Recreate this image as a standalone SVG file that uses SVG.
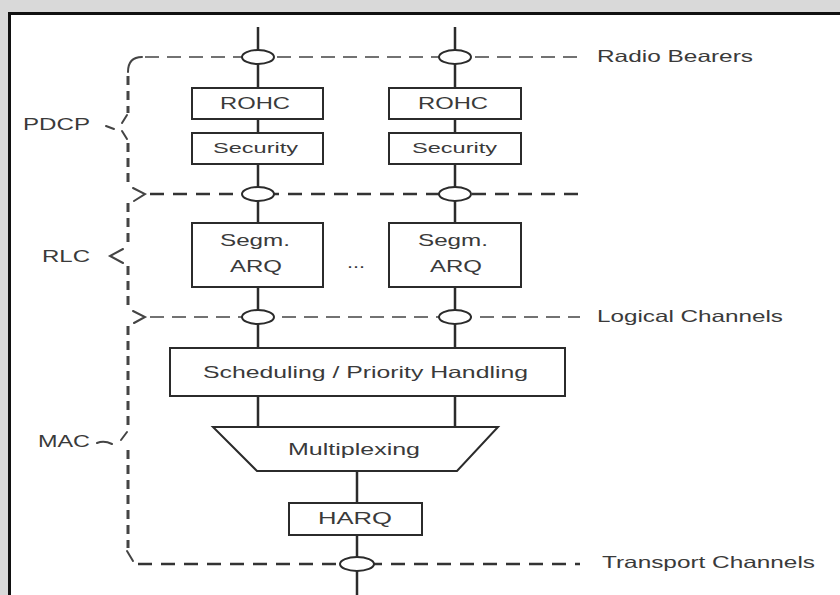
<svg xmlns="http://www.w3.org/2000/svg" width="840" height="595" viewBox="0 0 840 595">
<style>
  .txt { font-family: "Liberation Sans", Arial, sans-serif; font-size: 16.5px; fill: #3a3a3a; }
  .sm { font-size: 15px; }
  .box { fill: #ffffff; stroke: #2b2b2b; stroke-width: 2; }
  .wire { stroke: #2b2b2b; stroke-width: 2.5; fill: none; }
  .oval { fill: #ffffff; stroke: #2b2b2b; stroke-width: 2; }
  .dthin { stroke: #444; stroke-width: 1.3; stroke-dasharray: 14 8; fill: none; }
  .dthick { stroke: #333; stroke-width: 2.4; stroke-dasharray: 14 9; fill: none; }
  .brk { stroke: #444; stroke-width: 3; stroke-dasharray: 9 6; fill: none; }
  .brs { stroke: #444; stroke-width: 2; fill: none; stroke-linecap: round; }
</style>
<rect x="0" y="0" width="840" height="595" fill="#d9d9d9"/>
<rect x="9.5" y="13.5" width="840" height="600" fill="#ffffff" stroke="#111" stroke-width="3"/>

<g id="connectors">
  <line class="wire" x1="258" y1="27" x2="258" y2="427"/>
  <line class="wire" x1="455" y1="27" x2="455" y2="427"/>
  <line class="wire" x1="357" y1="471" x2="357" y2="595"/>
  <path class="brs" d="M128,72 Q128,57 142,57"/>
  <line class="dthin" x1="145" y1="57" x2="580" y2="57"/>
  <line class="dthick" x1="150" y1="194" x2="585" y2="194"/>
  <line class="dthin" x1="150" y1="317" x2="580" y2="317"/>
  <line class="dthick" x1="138" y1="564" x2="580" y2="564"/>
  <line class="brk" x1="128" y1="76" x2="128" y2="113"/>
  <path class="brs" d="M127,115 L122,123"/>
  <path class="brs" d="M106,126 L114,129"/>
  <path class="brs" d="M122,131 L127,139"/>
  <line class="brk" x1="128" y1="143" x2="128" y2="186"/>
  <path class="brs" d="M133,188 L145,194 L134,201"/>
  <line class="brk" x1="128" y1="203" x2="128" y2="248"/>
  <path class="brs" d="M123,249 L110,256 L123,263"/>
  <line class="brk" x1="128" y1="266" x2="128" y2="310"/>
  <path class="brs" d="M133,311 L145,317 L134,323"/>
  <line class="brk" x1="128" y1="326" x2="128" y2="430"/>
  <path class="brs" d="M127,432 L121,440"/>
  <path class="brs" d="M97,443 Q104,440 112,444"/>
  <line class="brk" x1="128" y1="450" x2="128" y2="548"/>
  <path class="brs" d="M127,551 L133,561"/>
  <ellipse class="oval" cx="258" cy="57" rx="16" ry="7"/>
  <ellipse class="oval" cx="455" cy="57" rx="16" ry="7"/>
  <ellipse class="oval" cx="258" cy="194" rx="16" ry="7"/>
  <ellipse class="oval" cx="455" cy="194" rx="16" ry="7"/>
  <ellipse class="oval" cx="258" cy="317" rx="16" ry="7"/>
  <ellipse class="oval" cx="455" cy="317" rx="16" ry="7"/>
  <ellipse class="oval" cx="357" cy="564" rx="17" ry="7"/>
</g>

<g id="label-radio-bearers"><text class="txt" x="597" y="62" textLength="156" lengthAdjust="spacingAndGlyphs">Radio Bearers</text></g>
<g id="label-pdcp"><text class="txt" x="23" y="130" textLength="67" lengthAdjust="spacingAndGlyphs">PDCP</text></g>
<g id="label-rlc"><text class="txt" x="42" y="262" textLength="48" lengthAdjust="spacingAndGlyphs">RLC</text></g>
<g id="label-mac"><text class="txt" x="38" y="447" textLength="52" lengthAdjust="spacingAndGlyphs">MAC</text></g>
<g id="label-logical"><text class="txt" x="597" y="322" textLength="186" lengthAdjust="spacingAndGlyphs">Logical Channels</text></g>
<g id="label-transport"><text class="txt" x="602" y="568" textLength="213" lengthAdjust="spacingAndGlyphs">Transport Channels</text></g>

<g id="rohc1"><rect class="box" x="192" y="88" width="131" height="31"/><text class="txt" x="220" y="109" textLength="70" lengthAdjust="spacingAndGlyphs">ROHC</text></g>
<g id="rohc2"><rect class="box" x="389" y="88" width="132" height="31"/><text class="txt" x="418" y="109" textLength="70" lengthAdjust="spacingAndGlyphs">ROHC</text></g>
<g id="security1"><rect class="box" x="192" y="133" width="131" height="31"/><text class="txt sm" x="213" y="153" textLength="85" lengthAdjust="spacingAndGlyphs">Security</text></g>
<g id="security2"><rect class="box" x="389" y="133" width="132" height="31"/><text class="txt sm" x="412" y="153" textLength="85" lengthAdjust="spacingAndGlyphs">Security</text></g>
<g id="arq1"><rect class="box" x="192" y="223" width="131" height="64"/><text class="txt" x="220" y="246" textLength="70" lengthAdjust="spacingAndGlyphs">Segm.</text><text class="txt" x="230" y="272" textLength="52" lengthAdjust="spacingAndGlyphs">ARQ</text></g>
<g id="arq2"><rect class="box" x="389" y="223" width="132" height="64"/><text class="txt" x="418" y="246" textLength="70" lengthAdjust="spacingAndGlyphs">Segm.</text><text class="txt" x="430" y="272" textLength="52" lengthAdjust="spacingAndGlyphs">ARQ</text></g>
<g id="ellipsis"><text class="txt" x="347" y="268" textLength="18" lengthAdjust="spacingAndGlyphs">...</text></g>
<g id="scheduling"><rect class="box" x="170" y="348" width="395" height="48"/><text class="txt" x="203" y="378" textLength="325" lengthAdjust="spacingAndGlyphs">Scheduling / Priority Handling</text></g>
<g id="multiplexing"><path d="M213,427 L498,427 L457,471 L257,471 Z" fill="#ffffff" stroke="#2b2b2b" stroke-width="2"/><text class="txt" x="288" y="455" textLength="132" lengthAdjust="spacingAndGlyphs">Multiplexing</text></g>
<g id="harq"><rect class="box" x="289" y="503" width="133" height="32"/><text class="txt" x="318" y="524" textLength="74" lengthAdjust="spacingAndGlyphs">HARQ</text></g>
</svg>
